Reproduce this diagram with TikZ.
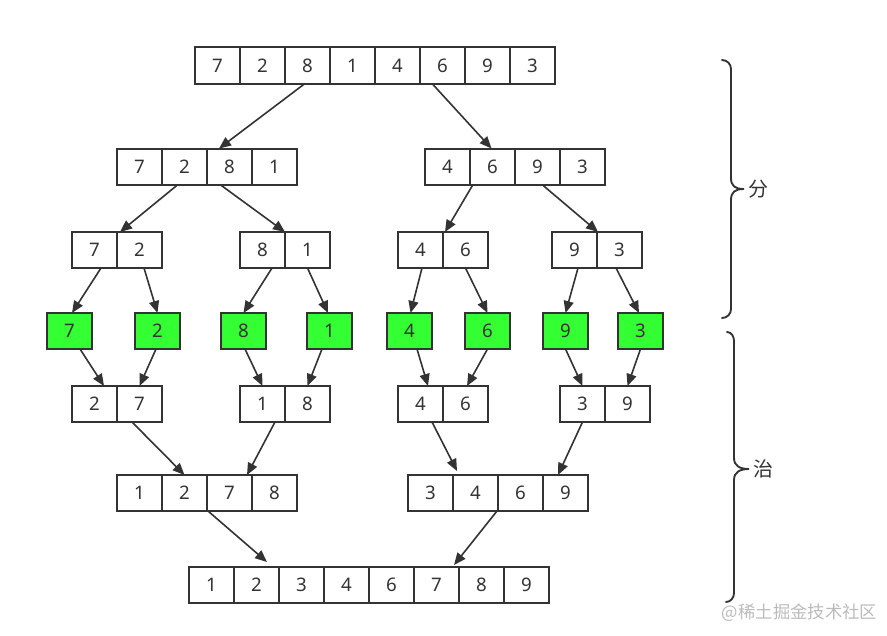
\documentclass[tikz,border=0pt]{standalone}
\usepackage{fontspec}
\setmainfont{Noto Sans}
\newfontfamily\cjk{Noto Sans CJK SC}
\usetikzlibrary{arrows.meta,calc}
\definecolor{linec}{HTML}{333333}
\definecolor{textc}{HTML}{333333}
\definecolor{leaf}{HTML}{33FF33}
\definecolor{wmc}{HTML}{BBBBBB}
\newcommand\arrcells[4]{%
  \foreach \v [count=\i] in {#4} {
    \node[cell] (#1-\i) at ({#2+45*\i-22.5},#3) {\v};
  }%
}
\begin{document}
\begin{tikzpicture}[x=0.75pt,y=-0.75pt,
  cell/.style={draw=linec,line width=1.5pt,minimum width=33.75pt,minimum height=27pt,
    inner sep=0pt,outer sep=0pt,font=\fontsize{14pt}{15pt}\selectfont,text=textc},
  gcell/.style={cell,fill=leaf},
  arr/.style={draw=linec,line width=1.2pt,-{Triangle[length=9pt,width=7.5pt]}},
  brace/.style={draw=linec,line width=1.4pt,line cap=round},
  lab/.style={font=\cjk\fontsize{15pt}{16pt}\selectfont,text=textc,inner sep=0pt},
  wm/.style={font=\cjk\fontsize{13pt}{14pt}\selectfont,text=wmc,inner sep=0pt}]
\useasboundingbox (0,0) rectangle (887,635);
% row 1
\arrcells{T}{195}{65.5}{7,2,8,1,4,6,9,3}
% row 2
\arrcells{L}{117}{166.5}{7,2,8,1}
\arrcells{R}{425}{166.5}{4,6,9,3}
% row 3
\arrcells{LL}{72}{250}{7,2}
\arrcells{LR}{240}{250}{8,1}
\arrcells{RL}{398}{250}{4,6}
\arrcells{RR}{552}{250}{9,3}
% row 4 (leaves)
\node[gcell] (g1) at (69.5,331) {7};
\node[gcell] (g2) at (157.5,331) {2};
\node[gcell] (g3) at (243.5,331) {8};
\node[gcell] (g4) at (329.5,331) {1};
\node[gcell] (g5) at (409.5,331) {4};
\node[gcell] (g6) at (487.5,331) {6};
\node[gcell] (g7) at (565.5,331) {9};
\node[gcell] (g8) at (640.5,331) {3};
% row 5
\arrcells{M1}{72}{404}{2,7}
\arrcells{M2}{240}{404}{1,8}
\arrcells{M3}{398}{404}{4,6}
\arrcells{M4}{560}{404}{3,9}
% row 6
\arrcells{N1}{117}{493}{1,2,7,8}
\arrcells{N2}{408}{493}{3,4,6,9}
% row 7
\arrcells{F}{189}{585}{1,2,3,4,6,7,8,9}
% arrows row1 -> row2
\draw[arr] ($(T-3.south)+(-2.5,0)$) -- ($(L-3.north)+(-10.5,0)$);
\draw[arr] ($(T-6.south)+(-10.5,0)$) -- ($(R-2.north)+(-1,0)$);
% row2 -> row3
\draw[arr] ($(L-2.south)+(-6.5,0)$) -- ($(LL-2.north)+(-19.5,0)$);
\draw[arr] ($(L-3.south)+(-9.5,0)$) -- ($(LR-2.north)+(-22.5,0)$);
\draw[arr] ($(R-2.south)+(-19.5,0)$) -- ($(RL-2.north)+(-20.5,0)$);
\draw[arr] ($(R-3.south)+(4.5,0)$) -- ($(RR-2.north)+(-21.5,0)$);
% row3 -> row4
\draw[arr] ($(LL-1.south)+(6.5,0)$) -- ($(g1.north)+(2.5,0)$);
\draw[arr] ($(LL-2.south)+(4.5,0)$) -- (g2.north);
\draw[arr] ($(LR-1.south)+(9.5,0)$) -- (g3.north);
\draw[arr] (LR-2.south) -- ($(g4.north)+(-1.5,0)$);
\draw[arr] ($(RL-1.south)+(1.5,0)$) -- ($(g5.north)+(1,0)$);
\draw[arr] (RL-2.south) -- (g6.north);
\draw[arr] ($(RR-1.south)+(3.5,0)$) -- (g7.north);
\draw[arr] ($(RR-2.south)+(-3.5,0)$) -- ($(g8.north)+(-1.5,0)$);
% row4 -> row5
\draw[arr] ($(g1.south)+(10.5,0)$) -- ($(M1-1.north)+(9.5,0)$);
\draw[arr] ($(g2.south)+(-1.5,0)$) -- (M1-2.north);
\draw[arr] ($(g3.south)+(1.5,0)$) -- (M2-1.north);
\draw[arr] ($(g4.south)+(-7.5,0)$) -- (M2-2.north);
\draw[arr] ($(g5.south)+(7.5,0)$) -- ($(M3-1.north)+(7.5,0)$);
\draw[arr] (g6.south) -- ($(M3-2.north)+(1.5,0)$);
\draw[arr] (g7.south) -- (M4-1.north);
\draw[arr] (g8.south) -- (M4-2.north);
% row5 -> row6
\draw[arr] ($(M1-2.south)+(-7.5,0)$) -- (N1-2.north);
\draw[arr] ($(M2-1.south)+(12.5,0)$) -- ($(N1-3.north)+(17.5,0)$);
\draw[arr] ($(M3-1.south)+(11.5,0)$) -- ($(N2-2.north)+(-18.5,-4)$);
\draw[arr] (M4-1.south) -- ($(N2-4.north)+(-7.5,0)$);
% row6 -> row7
\draw[arr] ($(N1-3.south)+(-21.5,0)$) -- ($(F-2.north)+(10.5,-5)$);
\draw[arr] ($(N2-3.south)+(-23.5,0)$) -- ($(F-6.north)+(17.5,-2)$);
% braces
\draw[brace] (722,60) to[out=0,in=90] (731,69) -- (731,178)
  .. controls (731,186) and (735,189) .. (744,189)
  .. controls (735,189) and (731,192) .. (731,200)
  -- (731,309) to[out=-90,in=0] (722,318);
\draw[brace] (727,332) to[out=0,in=90] (734,341) -- (734,458)
  .. controls (734,466) and (740,469) .. (749,469)
  .. controls (740,469) and (734,472) .. (734,480)
  -- (734,593) to[out=-90,in=0] (726,602);
\node[lab] (fen) at (758,189.5) {分};
\node[lab] (zhi) at (763,469) {治};
\node[wm] (wm) at (799.5,613) {@稀土掘金技术社区};
\end{tikzpicture}
\end{document}
